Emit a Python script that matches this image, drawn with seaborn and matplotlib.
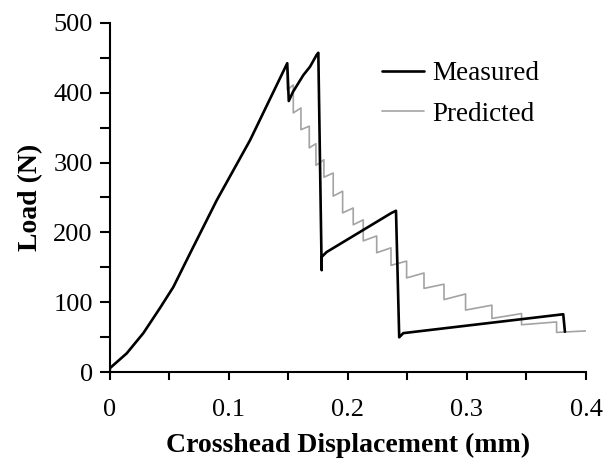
import matplotlib
matplotlib.use("Agg")
import matplotlib.pyplot as plt
import seaborn as sns
import pandas as pd
from matplotlib.ticker import MultipleLocator

# ---- data ----
meas_x = [0.0, 0.0004, 0.0144, 0.0284, 0.0424, 0.0536, 0.0676, 0.0900, 0.1180, 0.1492,
          0.1505, 0.1540, 0.1627, 0.1683, 0.1739, 0.1753,
          0.1781, 0.1781, 0.1823, 0.2368, 0.2405,
          0.2432, 0.2466, 0.3809, 0.3823]
meas_y = [0, 6, 27, 56, 92, 122, 170, 246, 332, 442,
          388, 401, 425, 437, 454, 457,
          146, 165, 172, 228, 231,
          50, 56, 83, 58]

pred_x = [0.0, 0.0004, 0.0144, 0.0284, 0.0424, 0.0536, 0.0676, 0.0900, 0.1180, 0.1492,
          0.1492, 0.1543, 0.1543, 0.1607, 0.1607, 0.1677, 0.1677, 0.1733, 0.1733,
          0.1800, 0.1800, 0.1878, 0.1878, 0.1957, 0.1957, 0.2046, 0.2046,
          0.2130, 0.2130, 0.2243, 0.2243, 0.2363, 0.2363, 0.2494, 0.2494,
          0.2640, 0.2640, 0.2808, 0.2808, 0.2989, 0.2989, 0.3210, 0.3210,
          0.3459, 0.3459, 0.3753, 0.3753, 0.4032]
pred_y = [0, 6, 27, 56, 92, 122, 170, 246, 332, 442,
          404, 411, 371, 378, 347, 352, 321, 327, 296,
          304, 279, 285, 252, 259, 228, 235, 211,
          218, 188, 195, 171, 178, 153, 159, 135,
          142, 120, 126, 104, 112, 89, 96, 77,
          84, 68, 72, 57, 59.5]

x_ticks = [0, 0.1, 0.2, 0.3, 0.4]
x_tick_labels = ["0", "0.1", "0.2", "0.3", "0.4"]
y_ticks = [0, 100, 200, 300, 400, 500]

df = pd.concat([
    pd.DataFrame({"x": pred_x, "y": pred_y, "series": "Predicted"}),
    pd.DataFrame({"x": meas_x, "y": meas_y, "series": "Measured"}),
])

sns.set_theme(style="ticks")
plt.rcParams["font.family"] = ["Liberation Serif", "DejaVu Serif"]
plt.rcParams["axes.linewidth"] = 1.5
plt.rcParams["text.color"] = "black"
plt.rcParams["axes.labelcolor"] = "black"
plt.rcParams["xtick.color"] = "black"
plt.rcParams["ytick.color"] = "black"

fig = plt.figure(figsize=(6.07, 4.69), dpi=100)
ax = fig.add_axes([0.1804, 0.2062, 0.9654 - 0.1804, 0.9516 - 0.2062])

sns.lineplot(data=df[df.series == "Predicted"], x="x", y="y", sort=False, estimator=None,
             color="#a3a3a3", linewidth=1.2, ax=ax, label="Predicted", zorder=2)
sns.lineplot(data=df[df.series == "Measured"], x="x", y="y", sort=False, estimator=None,
             color="black", linewidth=1.9, ax=ax, label="Measured", zorder=3)

ax.set_xlim(0, 0.4)
ax.set_ylim(0, 500)
ax.set_xticks(x_ticks)
ax.set_xticklabels(x_tick_labels)
ax.set_yticks(y_ticks)
ax.xaxis.set_minor_locator(MultipleLocator(0.05))
ax.yaxis.set_minor_locator(MultipleLocator(50))
ax.tick_params(axis="both", which="both", direction="out", width=1.5, colors="black",
               labelsize=19)
ax.tick_params(axis="x", which="both", length=6, pad=13)
ax.tick_params(axis="y", which="both", length=7, pad=5)
for s in ["top", "right"]:
    ax.spines[s].set_visible(False)
for s in ["left", "bottom"]:
    ax.spines[s].set_color("black")

ax.set_xlabel("Crosshead Displacement (mm)", fontsize=20, fontweight="bold", labelpad=9,
              color="black")
ax.set_ylabel("Load (N)", fontsize=20, fontweight="bold", labelpad=7, color="black")

handles, labels = ax.get_legend_handles_labels()
order = [labels.index("Measured"), labels.index("Predicted")]
leg = ax.legend([handles[i] for i in order], [labels[i] for i in order],
                loc="upper left", bbox_to_anchor=(0.571, 0.89), frameon=False,
                fontsize=19.5, handlelength=1.55, handletextpad=0.31, labelspacing=0.57,
                borderpad=0, borderaxespad=0)
for t in leg.get_texts():
    t.set_color("black")

fig.savefig("out.png", dpi=100)
